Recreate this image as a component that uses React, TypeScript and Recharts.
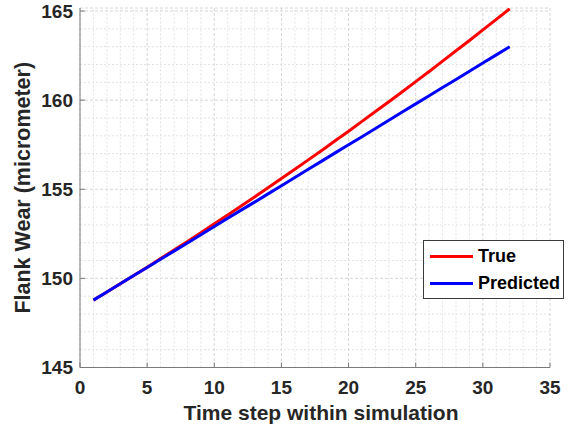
import React from 'react';
import {
    LineChart,
    Line,
    XAxis,
    YAxis,
    CartesianGrid,
    ReferenceLine,
    Legend,
    Label,
} from 'recharts';

const steps = [
    1, 2, 3, 4, 5, 6, 7, 8, 9, 10, 11, 12, 13, 14, 15, 16,
    17, 18, 19, 20, 21, 22, 23, 24, 25, 26, 27, 28, 29, 30, 31, 32,
];

const trueWear = [
    148.78, 149.24, 149.70, 150.16, 150.63, 151.11, 151.59, 152.07,
    152.56, 153.06, 153.56, 154.06, 154.57, 155.08, 155.60, 156.12,
    156.65, 157.18, 157.72, 158.26, 158.81, 159.36, 159.91, 160.47,
    161.04, 161.61, 162.19, 162.77, 163.35, 163.94, 164.53, 165.13,
];

const predictedWear = [
    148.78, 149.24, 149.70, 150.16, 150.61, 151.07, 151.53, 151.99,
    152.45, 152.91, 153.37, 153.83, 154.28, 154.74, 155.20, 155.66,
    156.12, 156.58, 157.04, 157.50, 157.95, 158.41, 158.87, 159.33,
    159.79, 160.25, 160.71, 161.16, 161.62, 162.08, 162.54, 163.00,
];

const seriesNames = ['True', 'Predicted'];

const xTicks = [0, 5, 10, 15, 20, 25, 30, 35];
const yTicks = [145, 150, 155, 160, 165];
const xMinor = [
    1, 2, 3, 4, 6, 7, 8, 9, 11, 12, 13, 14, 16, 17, 18, 19,
    21, 22, 23, 24, 26, 27, 28, 29, 31, 32, 33, 34,
];
const yMinor = [146, 147, 148, 149, 151, 152, 153, 154, 156, 157, 158, 159, 161, 162, 163, 164];

const FONT = '"Liberation Sans", Arial, Helvetica, sans-serif';
const AXIS = '#7a7a7a';
const TEXT = '#262626';

const data = steps.map((s, i) => ({
    step: s,
    actual: trueWear[i],
    predicted: predictedWear[i],
}));

const tickStyle = { fontFamily: FONT, fontSize: 19, fontWeight: 700, fill: TEXT };

function LegendBox({ payload }: any) {
    // keep plot order (True first), recharts sorts by name otherwise
    const items = [...(payload || [])].sort(
        (a: any, b: any) => seriesNames.indexOf(a.value) - seriesNames.indexOf(b.value)
    );
    return (
        <div
            style={{
                boxSizing: 'border-box',
                width: 141,
                height: 59,
                border: '1px solid #3a3a3a',
                background: '#fff',
                paddingTop: 2,
                fontFamily: FONT,
                fontWeight: 700,
                fontSize: 18,
                color: '#000',
            }}
        >
            {items.map((p: any) => (
                <div key={p.value} style={{ display: 'flex', alignItems: 'center', height: 27.3 }}>
                    <span
                        style={{
                            display: 'inline-block',
                            width: 43,
                            height: 3,
                            marginLeft: 6,
                            marginRight: 5,
                            background: p.color,
                        }}
                    />
                    <span>{p.value}</span>
                </div>
            ))}
        </div>
    );
}

export default function App() {
    return (
        <div style={{ position: 'absolute', left: 0, top: 0, width: 570, height: 433, background: '#fff' }}>
            <LineChart
                width={570}
                height={433}
                data={data}
                margin={{ top: 8, right: 20, bottom: 0, left: 0 }}
            >
                <CartesianGrid stroke="#d6d6d6" strokeDasharray="3 2" />
                {xMinor.map((v) => (
                    <ReferenceLine key={`vx${v}`} x={v} stroke="#e2e2e2" strokeDasharray="2 2" />
                ))}
                {yMinor.map((v) => (
                    <ReferenceLine key={`hy${v}`} y={v} stroke="#e2e2e2" strokeDasharray="2 2" />
                ))}
                <XAxis
                    dataKey="step"
                    type="number"
                    domain={[0, 35]}
                    ticks={xTicks}
                    allowDataOverflow
                    height={65.5}
                    stroke={AXIS}
                    tickSize={-5}
                    tickMargin={18.5}
                    tick={tickStyle}
                >
                    <Label
                        content={({ viewBox }: any) => (
                            <text
                                x={viewBox.x + viewBox.width / 2 + 6}
                                y={viewBox.y + 52.5}
                                textAnchor="middle"
                                fontFamily={FONT}
                                fontSize={21}
                                fontWeight={700}
                                fill={TEXT}
                            >
                                Time step within simulation
                            </text>
                        )}
                    />
                </XAxis>
                <XAxis
                    xAxisId="top"
                    orientation="top"
                    type="number"
                    domain={[0, 35]}
                    ticks={xTicks}
                    allowDataOverflow
                    height={0}
                    stroke={AXIS}
                    tickSize={-5}
                    tick={false}
                />
                <YAxis
                    type="number"
                    domain={[145, 165.17]}
                    ticks={yTicks}
                    allowDataOverflow
                    width={80}
                    stroke={AXIS}
                    tickSize={-5}
                    tickMargin={12}
                    tick={tickStyle}
                >
                    <Label
                        content={({ viewBox }: any) => {
                            const x = viewBox.x + 30;
                            const y = viewBox.y + viewBox.height / 2;
                            return (
                                <text
                                    x={x}
                                    y={y}
                                    transform={`rotate(-90, ${x}, ${y})`}
                                    textAnchor="middle"
                                    fontFamily={FONT}
                                    fontSize={21.5}
                                    fontWeight={700}
                                    fill={TEXT}
                                >
                                    Flank Wear (micrometer)
                                </text>
                            );
                        }}
                    />
                </YAxis>
                <YAxis
                    yAxisId="right"
                    orientation="right"
                    type="number"
                    domain={[145, 165.17]}
                    ticks={yTicks}
                    allowDataOverflow
                    width={0}
                    stroke={AXIS}
                    tickSize={-5}
                    tick={false}
                />
                <Legend
                    layout="vertical"
                    align="center"
                    verticalAlign="middle"
                    content={<LegendBox />}
                    wrapperStyle={{ left: 423, top: 240, width: 141, height: 59 }}
                />
                <Line
                    type="linear"
                    dataKey="actual"
                    name={seriesNames[0]}
                    stroke="#ff0000"
                    strokeWidth={3}
                    dot={false}
                    isAnimationActive={false}
                />
                <Line
                    type="linear"
                    dataKey="predicted"
                    name={seriesNames[1]}
                    stroke="#0000ff"
                    strokeWidth={3}
                    dot={false}
                    isAnimationActive={false}
                />
            </LineChart>
        </div>
    );
}
